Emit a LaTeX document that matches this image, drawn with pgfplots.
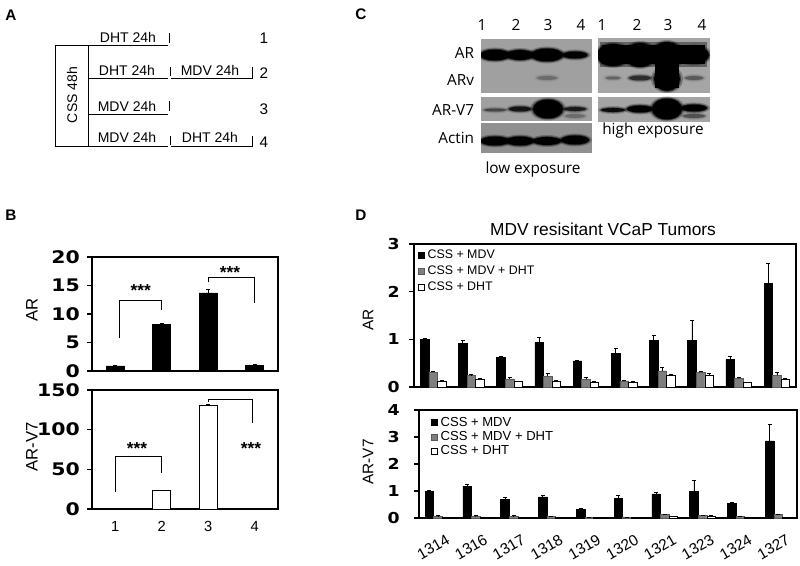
\documentclass[border=0pt]{standalone}
\usepackage{graphicx}
\usepackage{pgfplots}
\pgfplotsset{compat=1.18}
\usepackage{fontspec}
\setmainfont{Liberation Sans}
\newfontfamily\djv{DejaVu Sans}
\newfontfamily\osans{Open Sans}
\newcommand\fs[1]{\fontsize{#1}{#1}\selectfont}
\definecolor{blot}{HTML}{A0A0A0}
\definecolor{blotdk}{HTML}{909090}
\definecolor{midgray}{HTML}{7F7F7F}

% band on a blot: x, y, width, height, strength (all px)
\newcommand\band[5]{%
  \fill[black,opacity=#5*0.25] (#1,#2) ellipse ({(#3/2+3)*0.75pt} and {(#4/2+2)*0.75pt});
  \fill[black,opacity=#5*0.5] (#1,#2) ellipse ({(#3/2+1.2)*0.75pt} and {(#4/2+0.8)*0.75pt});
  \fill[black,opacity=#5] (#1,#2) ellipse ({#3*0.375pt} and {#4*0.375pt});}

% y tick numbers, written beside the axis: xmin, values, shift, font size, stretch
\newcommand\ynums[5]{%
  \pgfplotsinvokeforeach{#2}{%
    \node[anchor=east, inner sep=0pt, xshift=#3, font=\djv\bfseries\fs{#4}]
      at (axis cs:#1,##1) {\scalebox{#5}[1]{##1}};}}

\pgfplotsset{
  bx/.style={
    scale only axis, anchor=south west,
    axis line style={black, line width=0.8pt},
    ybar, clip=false,
    tick align=outside, ytick pos=left, xtick pos=bottom,
    major tick length=3.75pt,
    ytick style={black, line width=0.8pt},
    xtick style={draw=none},
    yticklabels={},
    xticklabel style={font=\fs{10.5}},
    error bars/y dir=plus, error bars/y explicit,
    error bars/error bar style={black, line width=0.6pt},
    error bars/error mark options={black, line width=0.6pt, mark size=1.5pt, rotate=90},
  },
}

\begin{document}
\begin{tikzpicture}
\path[use as bounding box] (0,0) rectangle (600pt,-424.5pt);

% ---------------- panel A ----------------
\begin{scope}[x=0.75pt, y=-0.75pt, line width=0.7pt]
  \node[font=\bfseries\fs{11.5}] at (11,15) {A};
  \draw (55,45) rectangle (88,146);
  \node[rotate=90, font=\fs{10.5}] at (72,95) {CSS 48h};
  \begin{scope}[every node/.style={font=\fs{10.5}}]
    \draw (88,45) -- (168,45);  \draw (169,33) -- (169,43);
    \node at (128,37) {DHT 24h};
    \draw (88,78) -- (168,78);  \draw (170,67) -- (170,76);
    \draw (171,78) -- (252,78) -- (252,67);
    \node at (127,70) {DHT 24h};  \node at (210,70) {MDV 24h};
    \draw (88,114) -- (168,114); \draw (169,101) -- (169,111);
    \node at (127,106) {MDV 24h};
    \draw (88,146) -- (168,146); \draw (170,136) -- (170,145);
    \draw (171,146) -- (252,146) -- (252,136);
    \node at (127,137) {MDV 24h};  \node at (210,137) {DHT 24h};
    \node[font=\fs{11.5}] at (264,38) {1}; \node[font=\fs{11.5}] at (264,73) {2};
    \node[font=\fs{11.5}] at (264,109) {3}; \node[font=\fs{11.5}] at (264,142) {4};
  \end{scope}

  % labels for B and D
  \node[font=\bfseries\fs{11.5}] at (11,215) {B};
  \node[rotate=90, font=\fs{12.5}] at (32,310) {AR};
  \node[rotate=90, font=\fs{12.5}] at (32,447) {AR-V7};
  \node[font=\bfseries\fs{11.5}] at (361,215) {D};
  \node[font=\fs{13}] at (603,229) {MDV resisitant VCaP Tumors};
  \node[rotate=90, font=\fs{11.5}] at (368,320) {AR};
  \node[rotate=90, font=\fs{11.5}] at (368,462) {AR-V7};

  % ---------------- panel C ----------------
  \node[font=\bfseries\fs{11.5}] at (361,14) {C};
  \begin{scope}[every node/.style={font=\osans\fs{11.5}}]
    \foreach \x/\l in {482/1,516/2,548/3,581/4,602/1,637/2,668/3,702/4}
      \node at (\x,25) {\l};
    \node[anchor=east] at (479,53) {AR};
    \node[anchor=east] at (479,80) {ARv};
    \node[anchor=east] at (479,110) {AR-V7};
    \node[anchor=east] at (479,138) {Actin};
    \node at (533,170) {low exposure};
    \node at (653,131) {high exposure};
  \end{scope}
  \fill[blot] (481,39) rectangle (592,93);
  \fill[blot] (481,97) rectangle (592,121);
  \fill[blotdk] (481,123) rectangle (592,153);
  \fill[blot!95!white] (598,38) rectangle (710,93);
  \fill[blot!95!white] (598,97) rectangle (710,122);
  \begin{scope}
    \clip (481,39) rectangle (592,93);
    \band{495}{55}{30}{11}{1}  \band{520}{55}{28}{10}{1}
    \band{547}{55}{32}{13}{1}  \band{575}{55}{25}{7}{1}
    \band{547}{78}{20}{4}{0.2}
  \end{scope}
  \begin{scope}
    \clip (481,97) rectangle (592,121);
    \band{495}{110}{22}{3}{0.4}  \band{520}{109}{22}{5}{0.75}
    \band{548}{109}{30}{19}{1}    \band{575}{109}{22}{4}{0.7}
    \band{575}{116}{20}{4}{0.2}
  \end{scope}
  \begin{scope}
    \clip (481,123) rectangle (592,153);
    \band{495}{141}{29}{9}{1}  \band{520}{141}{28}{9}{1}
    \band{547}{141}{28}{8}{1}  \band{575}{140}{28}{9}{1}
  \end{scope}
  \begin{scope}
    \clip (598,38) rectangle (710,93);
    \fill[black,opacity=0.4] (600,42) rectangle (707,67);
    \fill[black] (602,45) rectangle (705,64);
    \band{613}{55}{32}{22}{1}  \band{640}{55}{30}{24}{1}
    \band{667}{55}{30}{26}{1}  \band{694}{55}{30}{17}{1}
    \fill[black] (655,60) rectangle (679,88);
    \band{667}{79}{26}{24}{1}
    \band{613}{78}{14}{3}{0.25} \band{640}{78}{22}{5}{0.55}
    \band{694}{78}{18}{4}{0.3}
  \end{scope}
  \begin{scope}
    \clip (598,97) rectangle (710,122);
    \band{613}{110}{24}{4}{0.85}  \band{640}{109}{26}{7}{1}
    \band{667}{109}{30}{21}{1}    \band{694}{108}{26}{7}{1}
    \band{694}{116}{22}{4}{0.35}
  \end{scope}
\end{scope}

% ---------------- panel B ----------------
\begin{axis}[bx, at={(69pt,-278.25pt)}, width=139.5pt, height=85.5pt,
  xmin=0.5, xmax=4.5, xtick={1,2,3,4}, xticklabels={},
  ymin=0, ymax=20, ytick={0,5,10,15,20}, bar width=13.5pt]
  \addplot[fill=black, draw=black] coordinates {
    (1,0.9) +- (0,0.1)
    (2,8.2) +- (0,0.2)
    (3,13.7) +- (0,0.6)
    (4,1.05) +- (0,0.15)
  };
  \ynums{0.5}{0,5,10,15,20}{-9pt}{13}{1.18}
  \draw[line width=0.6pt] (axis cs:1.08,5.8) |- (axis cs:2.0,12.45) -- (axis cs:2.0,10.7);
  \draw[line width=0.6pt] (axis cs:3.0,15.6) |- (axis cs:4.0,16.5) -- (axis cs:4.0,11.9);
  \node[font=\bfseries\fs{13}] at (axis cs:1.55,14.2) {***};
  \node[font=\bfseries\fs{13}] at (axis cs:3.47,17.3) {***};
\end{axis}

\begin{axis}[bx, at={(69pt,-381.75pt)}, width=139.5pt, height=89.25pt,
  xmin=0.5, xmax=4.5, xtick={1,2,3,4}, xticklabels={1,2,3,4},
  xticklabel style={font=\fs{11}, yshift=-2pt},
  ymin=0, ymax=150, ytick={0,50,100,150}, bar width=13.5pt]
  \addplot[fill=white, draw=black, line width=0.7pt] coordinates {
    (1,0.6) +- (0,0)
    (2,23) +- (0,0)
    (3,130) +- (0,1.5)
    (4,0.6) +- (0,0)
  };
  \ynums{0.5}{0,50,100,150}{-9pt}{13}{1.18}
  \draw[line width=0.6pt] (axis cs:1.0,21.4) |- (axis cs:2.0,66.8) -- (axis cs:2.0,45.4);
  \draw[line width=0.6pt] (axis cs:3.0,135) |- (axis cs:3.94,138.7) -- (axis cs:3.94,108.4);
  \node[font=\bfseries\fs{13}] at (axis cs:1.47,76) {***};
  \node[font=\bfseries\fs{13}] at (axis cs:3.92,76) {***};
\end{axis}

% ---------------- panel D ----------------
\pgfplotsset{
  dleg/.style 2 args={
    legend style={draw=none, fill=none, at={(0,1)}, anchor=north west,
      font=\fs{#1}, inner sep=1pt, row sep=#2},
    legend cell align=left,
    every axis plot post/.append style={
      /pgfplots/legend image code/.code={
        \draw[##1, line width=0.4pt] (0pt,-2.3pt) rectangle (4.6pt,2.3pt);}},
  },
}
\begin{axis}[bx, dleg={9.3}{0pt}, at={(310.5pt,-290.25pt)}, width=286.5pt, height=107.25pt,
  xmin=-0.5, xmax=9.5, xtick={0,...,9}, xticklabels={},
  ymin=0, ymax=3, ytick={0,1,2,3}, bar width=6.4pt, ybar=0pt,
  legend style={xshift=2pt, yshift=-1pt}]
  \addplot[fill=black, draw=black] coordinates {
    (0,1.00) +- (0,0.01) (1,0.92) +- (0,0.06) (2,0.62) +- (0,0.03)
    (3,0.93) +- (0,0.11) (4,0.55) +- (0,0.01) (5,0.71) +- (0,0.09)
    (6,0.97) +- (0,0.12) (7,0.97) +- (0,0.42) (8,0.58) +- (0,0.07)
    (9,2.17) +- (0,0.42)
  };
  \addplot[fill=midgray, draw=midgray!70!black] coordinates {
    (0,0.31) +- (0,0.02) (1,0.25) +- (0,0.01) (2,0.17) +- (0,0.04)
    (3,0.23) +- (0,0.06) (4,0.16) +- (0,0.04) (5,0.13) +- (0,0.01)
    (6,0.34) +- (0,0.07) (7,0.31) +- (0,0.02) (8,0.18) +- (0,0.03)
    (9,0.25) +- (0,0.05)
  };
  \addplot[fill=white, draw=black] coordinates {
    (0,0.13) +- (0,0.01) (1,0.17) +- (0,0.00) (2,0.11) +- (0,0.01)
    (3,0.12) +- (0,0.01) (4,0.10) +- (0,0.01) (5,0.10) +- (0,0.01)
    (6,0.24) +- (0,0.02) (7,0.25) +- (0,0.04) (8,0.10) +- (0,0.00)
    (9,0.16) +- (0,0.02)
  };
  \ynums{-0.5}{0,1,2,3}{-10.5pt}{11.3}{1.15}
  \legend{CSS + MDV, CSS + MDV + DHT, CSS + DHT}
\end{axis}

\begin{axis}[bx, dleg={9.8}{-1.5pt}, at={(314.25pt,-388.5pt)}, width=283.5pt, height=81pt,
  xmin=-0.5, xmax=9.5, xtick={0,...,9},
  xticklabels={1314,1316,1317,1318,1319,1320,1321,1323,1324,1327},
  xticklabel style={font=\fs{11.5}, anchor=center, xshift=-3.5pt, yshift=-18pt, rotate=30},
  ymin=0, ymax=4, ytick={0,1,2,3,4}, bar width=6.4pt, ybar=0pt,
  legend style={xshift=8pt, yshift=-2pt}]
  \addplot[fill=black, draw=black] coordinates {
    (0,1.00) +- (0,0.03) (1,1.18) +- (0,0.08) (2,0.70) +- (0,0.05)
    (3,0.78) +- (0,0.04) (4,0.31) +- (0,0.04) (5,0.72) +- (0,0.12)
    (6,0.89) +- (0,0.07) (7,1.00) +- (0,0.39) (8,0.55) +- (0,0.01)
    (9,2.86) +- (0,0.61)
  };
  \addplot[fill=midgray, draw=midgray!70!black] coordinates {
    (0,0.07) +- (0,0.01) (1,0.07) +- (0,0.01) (2,0.07) +- (0,0.01)
    (3,0.05) +- (0,0.01) (4,0.02) +- (0,0.00) (5,0.02) +- (0,0.00)
    (6,0.12) +- (0,0.02) (7,0.10) +- (0,0.01) (8,0.05) +- (0,0.00)
    (9,0.12) +- (0,0.02)
  };
  \addplot[fill=white, draw=black] coordinates {
    (0,0.02) +- (0,0.00) (1,0.02) +- (0,0.00) (2,0.02) +- (0,0.00)
    (3,0.01) +- (0,0.00) (4,0.01) +- (0,0.00) (5,0.02) +- (0,0.00)
    (6,0.05) +- (0,0.01) (7,0.08) +- (0,0.01) (8,0.01) +- (0,0.00)
    (9,0.03) +- (0,0.00)
  };
  \ynums{-0.5}{0,1,2,3,4}{-14.25pt}{11.3}{1.15}
  \legend{CSS + MDV, CSS + MDV + DHT, CSS + DHT}
\end{axis}
\end{tikzpicture}
\end{document}
